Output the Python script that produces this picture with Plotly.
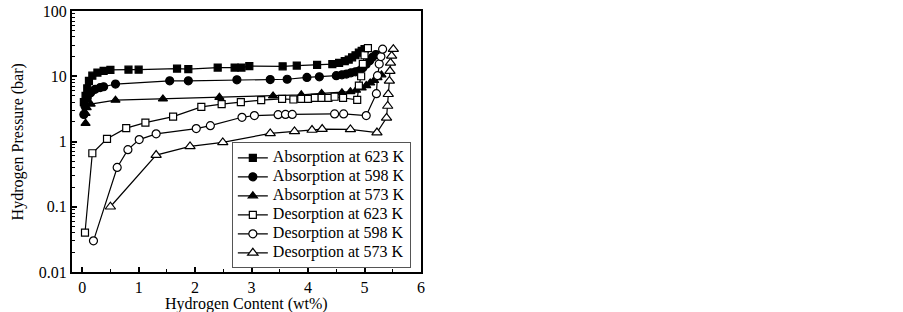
import plotly.graph_objects as go

# ---- data ----
abs623_x = [0.03, 0.06, 0.09, 0.12, 0.18, 0.27, 0.38, 0.50, 0.82, 1.00, 1.68, 1.88, 2.40, 2.70,
            2.82, 2.96, 3.55, 3.80, 4.16, 4.43, 4.55, 4.65, 4.72, 4.78, 4.84, 4.90, 4.95, 5.00]
abs623_y = [4.0, 5.0, 6.5, 8.5, 10.2, 11.4, 12.1, 12.5, 12.6, 12.6, 13.1, 12.9, 13.6, 13.6,
            13.6, 14.3, 14.2, 14.6, 14.9, 15.3, 16.0, 17.0, 18.0, 19.5, 21.0, 23.0, 24.5, 26.0]

abs598_x = [0.03, 0.05, 0.09, 0.15, 0.23, 0.32, 0.38, 0.59, 1.55, 1.88, 2.74, 3.33, 3.63, 3.98,
            4.20, 4.50, 4.60, 4.68, 4.76, 4.84, 4.91, 4.97, 5.03, 5.09, 5.14, 5.20]
abs598_y = [2.6, 3.5, 4.7, 5.6, 6.3, 6.7, 6.9, 7.6, 8.5, 8.5, 8.8, 8.9, 9.0, 9.6,
            9.8, 10.2, 10.5, 10.8, 11.3, 11.7, 12.1, 13.5, 15.3, 17.3, 19.5, 21.5]

abs573_x = [0.06, 0.06, 0.08, 0.15, 0.59, 1.43, 2.43, 3.38, 3.88, 4.24, 4.60, 4.75, 4.85, 4.95,
            5.03, 5.10, 5.17, 5.23, 5.30]
abs573_y = [1.9, 2.7, 3.3, 3.75, 4.3, 4.5, 4.75, 5.0, 5.2, 5.45, 5.6, 5.8, 6.1, 6.6,
            7.2, 7.9, 8.6, 9.5, 10.5]

des623_x = [0.05, 0.18, 0.44, 0.78, 1.12, 1.61, 2.11, 2.47, 2.81, 3.17, 3.54, 3.74, 3.88, 4.00,
            4.12, 4.24, 4.36, 4.47, 4.62, 4.87, 4.90, 4.94, 4.97, 5.00, 5.06]
des623_y = [0.04, 0.66, 1.1, 1.6, 1.95, 2.4, 3.4, 3.75, 4.0, 4.3, 4.5, 4.4, 4.5, 4.5,
            4.65, 4.65, 4.65, 4.85, 4.65, 4.35, 7.2, 10.0, 15.5, 21.0, 27.0]

des598_x = [0.20, 0.62, 0.81, 1.01, 1.31, 2.02, 2.27, 2.83, 3.05, 3.47, 3.60, 3.72, 4.47, 4.63,
            5.03, 5.21, 5.23, 5.26, 5.29, 5.32]
des598_y = [0.03, 0.40, 0.75, 1.07, 1.31, 1.58, 1.75, 2.35, 2.5, 2.58, 2.6, 2.6, 2.65, 2.65,
            2.5, 5.4, 10.2, 15.4, 20.0, 26.0]

des573_x = [0.50, 1.31, 1.91, 2.49, 3.33, 3.76, 4.07, 4.25, 4.75, 5.22, 5.39, 5.41, 5.42, 5.44,
            5.45, 5.46, 5.48, 5.51]
des573_y = [0.10, 0.62, 0.84, 0.97, 1.33, 1.43, 1.50, 1.55, 1.53, 1.37, 2.3, 3.5, 5.3, 8.5,
            12.0, 16.0, 20.5, 26.0]

series_names = ["Absorption at 623 K", "Absorption at 598 K", "Absorption at 573 K",
                "Desorption at 623 K", "Desorption at 598 K", "Desorption at 573 K"]

x_tick_vals = [0, 1, 2, 3, 4, 5, 6]
y_tick_vals = [0.01, 0.1, 1, 10, 100]
y_tick_text = ["0.01", "0.1", "1", "10", "100"]
x_title = "Hydrogen Content (wt%)"
y_title = "Hydrogen Pressure (bar)"

FONT = "Liberation Serif, Times New Roman, serif"

fig = go.Figure()

specs = [
    (abs623_x, abs623_y, "square", "black", 7),
    (abs598_x, abs598_y, "circle", "black", 8),
    (abs573_x, abs573_y, "triangle-up", "black", 8),
    (des623_x, des623_y, "square", "white", 7),
    (des598_x, des598_y, "circle", "white", 8),
    (des573_x, des573_y, "triangle-up", "white", 9),
]

for (xs, ys, sym, fill, size), name in zip(specs, series_names):
    fig.add_trace(go.Scatter(
        x=xs, y=ys, mode="lines+markers",
        name='<span style="font-size:16px">' + name + '</span>',
        line=dict(color="black", width=1.2),
        marker=dict(symbol=sym, size=size, color=fill, line=dict(color="black", width=1.2)),
    ))

minor_y = [m * 10 ** e for e in (-2, -1, 0, 1) for m in range(2, 10)]

fig.update_layout(
    template="none",
    width=903, height=312,
    margin=dict(l=72, r=482, t=11, b=40, autoexpand=False),
    paper_bgcolor="white", plot_bgcolor="white",
    font=dict(family=FONT, size=16, color="black"),
    showlegend=True,
    legend=dict(
        x=0.458, y=0.014, xanchor="left", yanchor="bottom",
        bgcolor="white", bordercolor="#555555", borderwidth=1,
        font=dict(family=FONT, size=11, color="black"),
        tracegroupgap=0,
    ),
    xaxis=dict(
        range=[-0.18, 6], tickvals=x_tick_vals, automargin=False,
        ticks="inside", ticklen=5, tickwidth=1.5, tickcolor="black",
        minor=dict(tickvals=[0.5, 1.5, 2.5, 3.5, 4.5, 5.5], ticks="inside", ticklen=3,
                   tickwidth=1.2, tickcolor="black", showgrid=False),
        showline=True, linewidth=2, linecolor="black", mirror=True,
        showgrid=False, zeroline=False,
        tickfont=dict(family=FONT, size=16, color="black"),
    ),
    yaxis=dict(
        type="log", range=[-2, 2], tickvals=y_tick_vals, ticktext=y_tick_text, automargin=False,
        ticklabeloverflow="allow",
        ticks="inside", ticklen=5, tickwidth=1.5, tickcolor="black",
        minor=dict(tickvals=minor_y, ticks="inside", ticklen=3, tickwidth=1.2,
                   tickcolor="black", showgrid=False),
        showline=True, linewidth=2, linecolor="black", mirror=True,
        showgrid=False, zeroline=False,
        tickfont=dict(family=FONT, size=16, color="black"),
    ),
    annotations=[
        dict(text=x_title, xref="paper", yref="paper", x=0.5, y=-0.121,
             xanchor="center", yanchor="middle", showarrow=False,
             font=dict(family=FONT, size=16, color="black")),
        dict(text=y_title, xref="paper", yref="paper", x=-0.155, y=0.5, textangle=-90,
             xanchor="center", yanchor="middle", showarrow=False,
             font=dict(family=FONT, size=16, color="black")),
    ],
)

# remove the default 8 px page margin so the figure sits at the window's top-left corner
fig.write_html("out.html", config={"displayModeBar": False},
               post_script="document.body.style.margin='0px';")
